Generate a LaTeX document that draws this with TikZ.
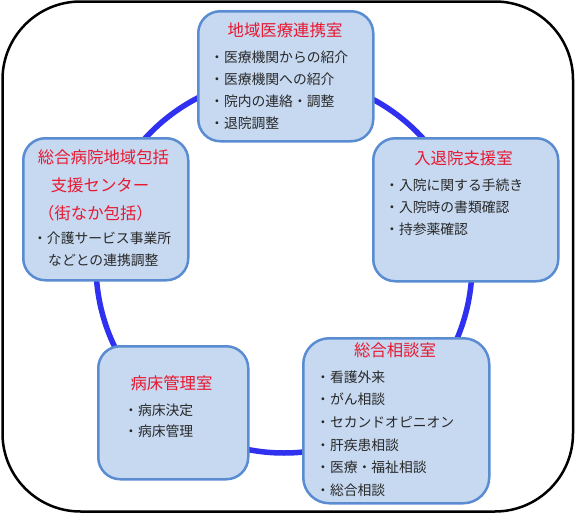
\documentclass[tikz,border=0pt]{standalone}
\usepackage{fontspec}
\newfontfamily\jp{Noto Sans CJK JP}
\definecolor{ringblue}{RGB}{48,48,240}
\definecolor{boxfill}{RGB}{198,217,241}
\definecolor{boxline}{RGB}{90,140,210}
\definecolor{titlered}{RGB}{232,24,48}
\definecolor{bodytext}{RGB}{40,40,40}
\begin{document}
\begin{tikzpicture}[x=1pt,y=-1pt,
  room/.style={draw=boxline, fill=boxfill, line width=2.5pt, rounded corners=22pt, inner sep=0pt, anchor=north west},
  ttl/.style={font=\jp\fontsize{16.4}{20}\selectfont, text=titlered, inner sep=0pt, anchor=base},
  itm/.style={font=\jp\fontsize{13.8}{17}\selectfont, text=bodytext, inner sep=0pt, anchor=base west}]
\useasboundingbox (0,0) rectangle (576,514);
% outer frame
\node[draw=black, line width=2.5pt, rounded corners=78pt, minimum width=570.5pt, minimum height=510pt, inner sep=0pt] (frame) at (287.75,256.5) {};
% ring
\node[circle, draw=ringblue, line width=5.5pt, minimum size=376pt, inner sep=0pt] (ring) at (284,265) {};
% boxes
\node[room, minimum width=175pt, minimum height=130pt] (topbox) at (197,10) {};
\node[room, minimum width=165pt, minimum height=142pt] (leftbox) at (22,137) {};
\node[room, minimum width=185pt, minimum height=143pt] (rightbox) at (372,137) {};
\node[room, minimum width=150pt, minimum height=133pt] (blbox) at (97,345) {};
\node[room, minimum width=186pt, minimum height=165pt, rounded corners=26pt] (brbox) at (302,337) {};
% top box text
\node[ttl] (t1) at (285,36.2) {地域医療連携室};
\node[itm] (t1a) at (210,62.2) {・医療機関からの紹介};
\node[itm] (t1b) at (210,84.2) {・医療機関への紹介};
\node[itm] (t1c) at (210,106.2) {・院内の連絡・調整};
\node[itm] (t1d) at (210,128.2) {・退院調整};
% left box text
\node[ttl] (t2) at (103.5,163.2) {総合病院地域包括};
\node[ttl] (t2b) at (100,191.2) {支援センター};
\node[ttl] (t2c) at (95.5,219.2) {（街なか包括）};
\node[itm] (t2d) at (33,243.2) {・介護サービス事業所};
\node[itm] (t2e) at (48,265.2) {などとの連携調整};
% right box text
\node[ttl] (t3) at (463.5,164.2) {入退院支援室};
\node[itm] (t3a) at (385,190.2) {・入院に関する手続き};
\node[itm] (t3b) at (385,212.2) {・入院時の書類確認};
\node[itm] (t3c) at (385,234.2) {・持参薬確認};
% bottom-left box text
\node[ttl] (t4) at (171.5,389.2) {病床管理室};
\node[itm] (t4a) at (124,415.2) {・病床決定};
\node[itm] (t4b) at (124,436.2) {・病床管理};
% bottom-right box text
\node[ttl] (t5) at (395,356.2) {総合相談室};
\node[itm] (t5a) at (316,382.2) {・看護外来};
\node[itm] (t5b) at (316,404.2) {・がん相談};
\node[itm] (t5c) at (316,427.2) {・セカンドオピニオン};
\node[itm] (t5d) at (316,450.2) {・肝疾患相談};
\node[itm] (t5e) at (316,472.2) {・医療・福祉相談};
\node[itm] (t5f) at (316,495.2) {・総合相談};
\end{tikzpicture}
\end{document}
